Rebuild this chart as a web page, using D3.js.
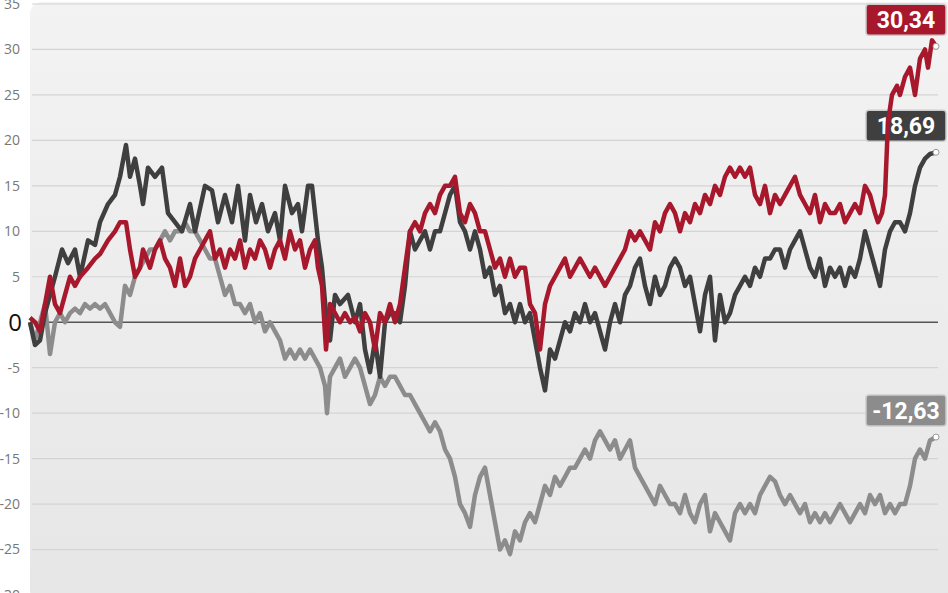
<!DOCTYPE html>
<html><head><meta charset="utf-8">
<script src="https://cdn.jsdelivr.net/npm/d3@7"></script>
<style>body{margin:0;background:#fff;}svg{display:block;}</style>
</head><body><svg id="c" width="948" height="593"></svg>
<script>
const yTicks=[35,30,25,20,15,10,5,0,-5,-10,-15,-20,-25,-30];
const darkT=[0,5,10,15,25,32,38,45,50,58,65,70,78,85,90,96,100,105,110,113,118,125,132,138,145,152,160,165,175,182,188,195,202,208,215,220,226,232,238,245,250,255,262,268,272,278,282,288,292,296,300,305,310,318,325,330,335,340,345,350,355,360,365,370,375,380,385,390,395,400,405,410,415,420,425,430,435,440,445,450,455,460,465,470,475,480,485,490,495,500,505,510,515,520,525,530,535,540,545,550,555,560,565,570,575,580,585,590,595,600,605,610,615,620,625,630,635,640,645,650,655,660,665,670,675,680,685,690,695,700,705,710,715,720,725,730,735,740,745,750,755,760,765,770,775,780,785,790,795,800,805,810,815,820,825,830,835,840,845,850,855,860,865,870,875,880,885,890,895,900,906];
const darkV=[0,-2.5,-2,1,5,8,6.5,8,5,9,8.5,11,13,14,16,19.5,16,18,15,13,17,16,17,12,11,10,13,10,15,14.5,11,14,11,15,9,14,11,13,10,12,9,15,12,13,10,15,15,9,6,1,-2,3,2,3,0,2,-3,-5.5,-2,-6,0,1,1,0,4,10,8,9,10,8,10,10,12,14,15,11,10,8,10,8,5,6,3,4,1,2,0,2,0,1,-2,-5,-7.5,-3,-4,-2,0,-1,1,0,2,0,1,-1,-3,0,2,0,3,4,6,7,4,2,5,3,4,6,7,6,4,5,2,-1,3,5,-2,3,0,1,3,4,5,4,6,5,7,7,8,8,6,8,9,10,8,6,5,7,4,6,5,6,4,6,5,7,10,8,6,4,8,10,11,11,10,12,15,17,18,18.5,18.69];
const redT=[0,5,10,15,20,25,30,35,40,45,50,58,65,70,78,85,90,96,100,105,110,113,120,125,130,135,140,145,150,155,160,165,170,175,180,185,190,195,200,205,210,215,220,225,230,235,240,245,250,255,260,265,270,275,280,285,288,292,296,300,305,310,315,320,325,330,335,340,345,350,355,360,365,370,375,380,385,390,395,400,405,410,415,420,425,430,435,440,445,450,455,460,465,470,475,480,485,490,495,500,505,510,515,520,525,530,535,540,545,550,555,560,565,570,575,580,585,590,595,600,605,610,615,620,625,630,635,640,645,650,655,660,665,670,675,680,685,690,695,700,705,710,715,720,725,730,735,740,745,750,755,760,765,770,775,780,785,790,795,800,805,810,815,820,825,830,835,840,845,848,852,855,858,862,867,870,875,880,885,890,895,898,902,906];
const redV=[0.5,0,-1,2,5,2,1,3,5,4,5,6,7,7.5,9,10,11,11,8,5,6,8,6,8,9,7,6,4,7,4,5,7,8,9,10,7,8,6,8,7,9,6,8,7,9,8,6,8,9,7,10,8,9,6,8,9,6,4,-3,2,1,0,1,0,0.5,-1,1,0,-3,1,0,2,0,2,6,10,11,10,12,13,12,14,15,15,16,12,11,13,12,10,10,8,6,7,5,7,5,6,6,2,1,-3,2,4,5,6,7,5,6,7,6,5,6,5,4,5,6,7,8,10,9,10,9,8,11,10,12,13,12,10,12,11,13,12,14,13,15,14,16,17,16,17,16,17,14,13,15,12,14,13,14,15,16,14,13,12,14,11,13,12,12,13,11,12,13,12,15,14,12,11,12,14,22,25,26,25,27,28,25,29,30,28,31,30.34];
const grayT=[0,5,10,15,20,25,30,35,40,45,50,55,60,65,70,75,80,85,90,95,100,105,110,115,120,125,130,135,140,145,150,155,160,165,170,175,180,185,190,195,200,205,210,215,220,225,230,235,240,245,250,255,260,265,270,275,280,285,290,295,297,300,305,310,315,320,325,330,335,340,345,350,355,360,365,370,375,380,385,390,395,400,405,410,415,420,425,430,435,440,445,450,455,460,465,470,475,480,485,490,495,500,505,510,515,520,525,530,535,540,545,550,555,560,565,570,575,580,585,590,595,600,605,610,615,620,625,630,635,640,645,650,655,660,665,670,675,680,685,690,695,700,705,710,715,720,725,730,735,740,745,750,755,760,765,770,775,780,785,790,795,800,805,810,815,820,825,830,835,840,845,850,855,860,865,870,875,880,885,890,895,900,906];
const grayV=[0,-2,0,2,-3.5,0,1,0,1,1.5,1,2,1.5,2,1.5,2,1,0,-0.5,4,3,5,6,7,8,8,9,10,9,10,10,11,10,10,9,8,7,7,5,3,4,2,2,1,2,0,1,-1,0,-1,-2,-4,-3,-4,-3,-4,-3,-4,-5,-7,-10,-6,-5,-4,-6,-5,-4,-5,-7,-9,-8,-6,-7,-6,-6,-7,-8,-8,-9,-10,-11,-12,-11,-12,-14,-15,-17,-20,-21,-22.5,-19,-17,-16,-19,-22,-25,-24,-25.5,-23,-24,-22,-21,-22,-20,-18,-19,-17,-18,-17,-16,-16,-15,-14,-15,-13,-12,-13,-14,-13,-15,-14,-13,-16,-17,-18,-19,-20,-18,-19,-20,-20,-21,-19,-21,-22,-20,-19,-23,-21,-22,-23,-24,-21,-20,-21,-20,-21,-19,-18,-17,-17.5,-19,-20,-19,-20,-21,-20,-22,-21,-22,-21,-22,-21,-20,-21,-22,-21,-20,-21,-19,-20,-19,-21,-20,-21,-20,-20,-18,-15,-14,-15,-13,-12.63];
const series=[
 {t:grayT,v:grayV,color:"#8c8c8c",label:"-12,63"},
 {t:darkT,v:darkV,color:"#3f3f3f",label:"18,69"},
 {t:redT,v:redV,color:"#a8182c",label:"30,34"}
];
const svg=d3.select("#c");
const defs=svg.append("defs");
const g1=defs.append("linearGradient").attr("id","bg").attr("x1",0).attr("y1",0).attr("x2",0).attr("y2",1);
g1.append("stop").attr("offset","0%").attr("stop-color","#f3f3f3");
g1.append("stop").attr("offset","100%").attr("stop-color","#e6e6e6");
svg.append("rect").attr("x",30).attr("y",2).attr("width",930).attr("height",600).attr("rx",12).attr("fill","url(#bg)");
const x=d3.scaleLinear().domain([0,906]).range([30,936]);
const y=d3.scaleLinear().domain([-30,35]).range([595,4]);
yTicks.forEach(t=>{
  if(t!==0) svg.append("line").attr("x1",32).attr("x2",938).attr("y1",y(t)).attr("y2",y(t)).attr("stroke","#d4d4d4").attr("stroke-width",1.2);
  svg.append("text").attr("x",t===0?22:20).attr("y",y(t)).attr("dy","0.35em").attr("text-anchor","end")
    .attr("font-family","Open Sans, sans-serif").attr("font-size",t===0?24:14).attr("fill",t===0?"#111":"#777").text(t);
});
svg.append("line").attr("x1",30).attr("x2",938).attr("y1",y(0)).attr("y2",y(0)).attr("stroke","#555").attr("stroke-width",1.3);
const line=d3.line().x(d=>x(d[0])).y(d=>y(d[1]));
series.forEach(s=>{
  const n=Math.min(s.t.length,s.v.length);
  const pts=s.t.slice(0,n).map((t,i)=>[t,s.v[i]]);
  pts[n-1][0]=906;
  svg.append("path").datum(pts).attr("d",line).attr("fill","none").attr("stroke",s.color).attr("stroke-width",4.5).attr("stroke-linejoin","round");
  const last=pts[n-1];
  svg.append("circle").attr("cx",x(last[0])).attr("cy",y(last[1])).attr("r",3).attr("fill","#fff").attr("stroke","#999").attr("stroke-width",1);
  const by=Math.max(-4,y(last[1])-42);
  const bx=866;
  svg.append("rect").attr("x",bx).attr("y",by).attr("width",80).attr("height",31).attr("rx",3).attr("fill",s.color).attr("stroke","#ccc").attr("stroke-width",1.5);
  svg.append("text").attr("x",bx+40).attr("y",by+16).attr("dy","0.35em").attr("text-anchor","middle")
    .attr("font-family","Roboto, sans-serif").attr("font-weight","bold").attr("font-size",23).attr("fill","#fff").text(s.label);
});
</script></body></html>
